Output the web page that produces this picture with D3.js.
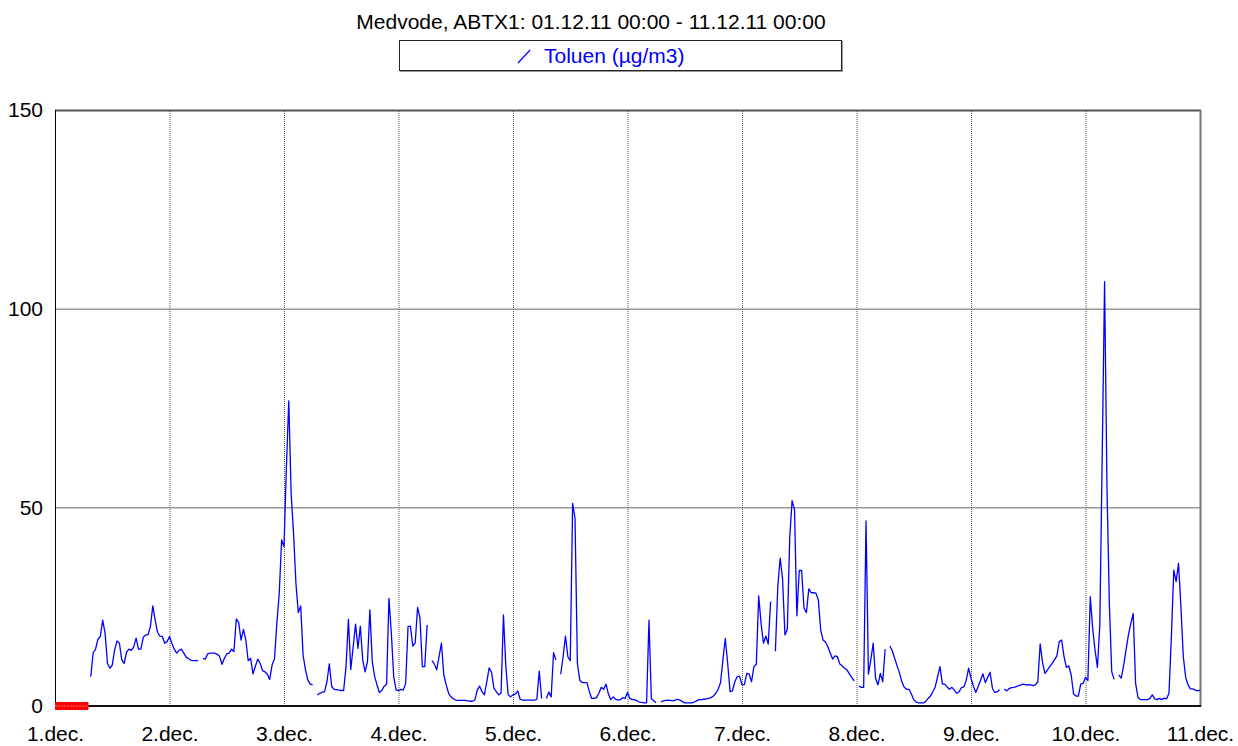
<!DOCTYPE html>
<html>
<head>
<meta charset="utf-8">
<script src="https://cdn.jsdelivr.net/npm/d3@7"></script>
<style>
  body { margin: 0; background: #fff; }
  svg { display: block; }
  text { font-family: "Liberation Sans", Arial, sans-serif; }
</style>
</head>
<body>
<div class="main-container"></div>
<script>
var title = "Medvode, ABTX1: 01.12.11 00:00 - 11.12.11 00:00";
var seriesName = "Toluen (µg/m3)";
var dayLabels = ["1.dec.", "2.dec.", "3.dec.", "4.dec.", "5.dec.", "6.dec.", "7.dec.", "8.dec.", "9.dec.", "10.dec.", "11.dec."];
var yTicks = [0, 50, 100, 150];
// hours with no data (red marks on the axis)
var missingHours = [[0, 7]];

// half-hourly toluene values, one array per day (null = no measurement)
var day1 = [null, null, null, null, null, null, null, null, null, null, null, null, null, null, null,
  7.4, 13.4, 14.3, 16.8, 17.5, 21.6, 18.3, 10.7, 9.5, 10.3, 14.1, 16.4, 15.8, 11.6, 10.7, 13.6, 14.3,
  14.0, 14.9, 17.1, 14.3, 14.3, 17.3, 17.9, 17.9, 20.0, 25.2, 21.6, 18.5, 17.6, 17.5, 15.8, 16.2];
var day2 = [17.5, 15.8, 14.3, 13.3, 14.0, 14.3, 13.3, 12.3, 11.9, 11.5, 11.4, 11.4, 11.4, null, 12.0, 11.8,
  13.1, 13.3, 13.3, 13.3, 13.0, 12.5, 10.5, 12.0, 13.1, 13.3, 14.3, 13.7, 21.9, 21.0, 16.6, 19.3,
  16.6, 11.4, 12.0, 8.1, 10.0, 11.8, 10.7, 8.9, 8.6, 8.0, 6.7, 10.3, 11.8, 20.8, 28.3, 41.8];
var day3 = [40.1, 60.0, 76.8, 53.5, 43.5, 30.9, 23.5, 25.2, 12.8, 9.1, 6.5, 5.5, 5.3, null, 2.8, 3.2,
  3.4, 3.6, 6.1, 10.6, 4.9, 4.2, 4.1, 4.0, 3.9, 3.9, 9.9, 21.8, 9.2, 14.9, 20.6, 14.5,
  20.1, 11.6, 8.6, 11.2, 24.2, 11.2, 7.4, 5.3, 3.4, 3.9, 5.0, 5.5, 27.1, 18.3, 7.4, 4.0];
var day4 = [3.9, 4.2, 4.0, 5.7, 20.0, 20.1, 15.1, 15.9, 24.8, 22.1, 9.9, 9.9, 20.4, null, 11.4, 10.6,
  9.1, 12.4, 15.8, 7.8, 5.3, 3.2, 2.3, 1.8, 1.5, 1.4, 1.4, 1.4, 1.4, 1.3, 1.2, 1.2,
  1.5, 4.0, 5.0, 3.6, 2.8, 6.1, 9.6, 8.5, 4.5, 3.6, 2.8, 3.2, 22.9, 9.9, 2.8, 2.3];
var day5 = [2.8, 3.0, 3.8, 1.7, 1.5, 1.5, 1.5, 1.5, 1.5, 1.5, 1.7, 8.8, 1.9, null, 1.9, 3.5,
  2.3, 13.4, 11.6, null, 8.0, 12.4, 17.6, 12.4, 11.4, 51.0, 47.2, 10.7, 6.5, 5.9, 5.9, 5.9,
  3.6, 1.9, 1.9, 2.1, 3.2, 4.7, 4.2, 5.5, 3.0, 1.6, 2.3, 1.7, 1.5, 1.6, 2.1, 1.9];
var day6 = [3.4, 1.9, 1.6, 1.6, 1.3, 1.0, 0.9, 0.8, 0.8, 21.6, 1.9, 1.3, 0.8, null, 1.0, 1.3,
  1.4, 1.5, 1.4, 1.3, 1.5, 1.7, 1.5, 1.1, 0.8, 0.8, 0.8, 0.8, 1.0, 1.3, 1.6, 1.6,
  1.7, 1.8, 1.9, 2.1, 2.5, 3.2, 4.2, 5.9, 11.6, 17.0, 10.7, 3.6, 3.8, 6.1, 7.4, 7.5];
var day7 = [5.3, 5.4, 8.2, 8.0, 6.1, 9.9, 10.5, 27.7, 20.8, 15.8, 17.6, 15.6, 26.3, null, 13.8, 30.0,
  37.2, 32.1, 17.9, 19.3, 42.2, 51.7, 49.5, 22.7, 34.1, 34.1, 24.6, 23.5, 29.5, 28.5, 28.5, 28.4,
  26.7, 19.1, 16.6, 16.1, 14.9, 13.3, 11.8, 12.6, 12.4, 10.6, 10.1, 9.5, 9.1, 8.1, 7.2, 6.3];
var day8 = [null, 5.0, 4.7, 4.7, 46.6, 8.0, 11.6, 15.8, 7.0, 5.3, 8.2, 6.1, 14.3, null, 15.1, 13.9,
  12.0, 10.1, 8.4, 6.1, 4.7, 4.2, 4.2, 3.0, 1.6, 1.0, 0.8, 0.8, 0.8, 1.1, 1.9, 2.5,
  3.6, 4.8, 7.4, 9.9, 5.5, 5.5, 4.8, 4.2, 4.7, 4.0, 3.2, 3.6, 4.6, 4.8, 6.5, 9.5];
var day9 = [7.0, 5.0, 3.4, 4.9, 6.5, 8.1, 5.9, 7.2, 8.5, 4.4, 3.4, 3.6, 4.1, null, 4.3, 3.8,
  4.4, 4.6, 4.7, 4.9, 5.1, 5.3, 5.5, 5.3, 5.4, 5.3, 5.1, 5.3, 6.1, 15.6, 10.9, 8.2,
  9.0, 9.9, 10.7, 11.6, 12.6, 16.2, 16.6, 12.4, 9.7, 10.1, 7.8, 3.0, 2.5, 2.5, 5.5, 5.7];
var day10 = [7.2, 6.4, 27.5, 19.6, 14.1, 9.7, 20.4, 62.7, 106.8, 55.2, 25.8, 8.6, 6.7, null, 7.8, 7.0,
  10.3, 14.1, 17.9, 20.8, 23.3, 5.7, 2.2, 1.6, 1.6, 1.6, 1.6, 1.9, 2.8, 1.8, 1.6, 1.9,
  1.6, 2.0, 1.8, 3.2, 17.4, 34.2, 31.3, 35.9, 25.0, 12.4, 7.2, 5.3, 4.3, 4.3, 4.0, 3.8];
var day11 = [4.0];

var values = [].concat(day1, day2, day3, day4, day5, day6, day7, day8, day9, day10, day11);
var theData = values.map(function (v, i) { return { h: i * 0.5, v: v }; });
var dayHours = dayLabels.map(function (d, i) { return i * 24; });

var svg = d3.select(".main-container")
    .append("svg")
    .attr("width", 1238)
    .attr("height", 746);

var x = d3.scaleLinear().domain([0, 240]).range([55, 1200]);
var y = d3.scaleLinear().domain([0, 150]).range([706, 110]);

// title
svg.append("text")
    .attr("x", 591).attr("y", 29)
    .attr("text-anchor", "middle")
    .style("font-size", "21px")
    .attr("fill", "#000")
    .text(title);

// legend box
svg.append("rect")
    .attr("x", 400.5).attr("y", 41.5).attr("width", 442).attr("height", 30)
    .attr("fill", "none").attr("stroke", "#999");
svg.append("rect")
    .attr("x", 399.5).attr("y", 40.5).attr("width", 442).attr("height", 30)
    .attr("fill", "#fff").attr("stroke", "#222");
svg.append("line")
    .attr("x1", 518).attr("y1", 63).attr("x2", 530).attr("y2", 50)
    .attr("stroke", "#0000ff").attr("stroke-width", 1.2);
svg.append("text")
    .attr("x", 544).attr("y", 63)
    .attr("fill", "#0000ff")
    .style("font-size", "21px")
    .text(seriesName);

// vertical grid + day labels
var xAxis = svg.append("g")
    .attr("transform", "translate(0,706)")
    .call(d3.axisBottom(x).tickValues(dayHours).tickSize(-596).tickPadding(20)
        .tickFormat(function (d, i) { return dayLabels[i]; }));
xAxis.select(".domain").remove();
xAxis.selectAll("line")
    .attr("stroke", "#555")
    .attr("stroke-dasharray", "1,1")
    .style("opacity", function (d) { return (d === 0 || d === 240) ? 0 : 1; });
xAxis.selectAll("text").style("font-size", "21px").attr("fill", "#000");

// horizontal grid + value labels
var yAxis = svg.append("g")
    .attr("transform", "translate(55,0)")
    .call(d3.axisLeft(y).tickValues(yTicks).tickSize(-1145).tickPadding(12));
yAxis.select(".domain").remove();
yAxis.selectAll("line")
    .attr("stroke", "#666")
    .style("opacity", function (d) { return (d === 0 || d === 150) ? 0 : 1; });
yAxis.selectAll("text").style("font-size", "21px").attr("fill", "#000");

// frame
svg.append("line").attr("x1", 55).attr("y1", 110.5).attr("x2", 1201).attr("y2", 110.5)
    .attr("stroke", "#555").attr("stroke-width", 2);
svg.append("line").attr("x1", 1200.5).attr("y1", 110).attr("x2", 1200.5).attr("y2", 707)
    .attr("stroke", "#777").attr("stroke-width", 2);
svg.append("line").attr("x1", 55.5).attr("y1", 110).attr("x2", 55.5).attr("y2", 707)
    .attr("stroke", "#000").attr("stroke-width", 1);
svg.append("line").attr("x1", 55).attr("y1", 706).attr("x2", 1201).attr("y2", 706)
    .attr("stroke", "#111").attr("stroke-width", 2);

// missing data marks
svg.selectAll("rect.missing")
    .data(missingHours)
    .enter()
    .append("rect")
    .attr("class", "missing")
    .attr("x", function (d) { return x(d[0]); })
    .attr("y", 702)
    .attr("width", function (d) { return x(d[1]) - x(d[0]); })
    .attr("height", 8)
    .attr("fill", "#ff0000");
svg.selectAll("line.missing")
    .data(missingHours)
    .enter()
    .append("line")
    .attr("class", "missing")
    .attr("x1", function (d) { return x(d[0]); })
    .attr("x2", function (d) { return x(d[1]); })
    .attr("y1", 706).attr("y2", 706)
    .attr("stroke", "#ff7070").attr("stroke-width", 1)
    .attr("stroke-dasharray", "2,1");

// toluene series
var line = d3.line()
    .defined(function (d) { return d.v !== null; })
    .x(function (d) { return x(d.h); })
    .y(function (d) { return y(d.v); });

svg.append("path")
    .datum(theData)
    .attr("d", line)
    .attr("fill", "none")
    .attr("stroke", "#0000ff")
    .attr("stroke-width", 1.3)
    .attr("stroke-linejoin", "round");
</script>
</body>
</html>
